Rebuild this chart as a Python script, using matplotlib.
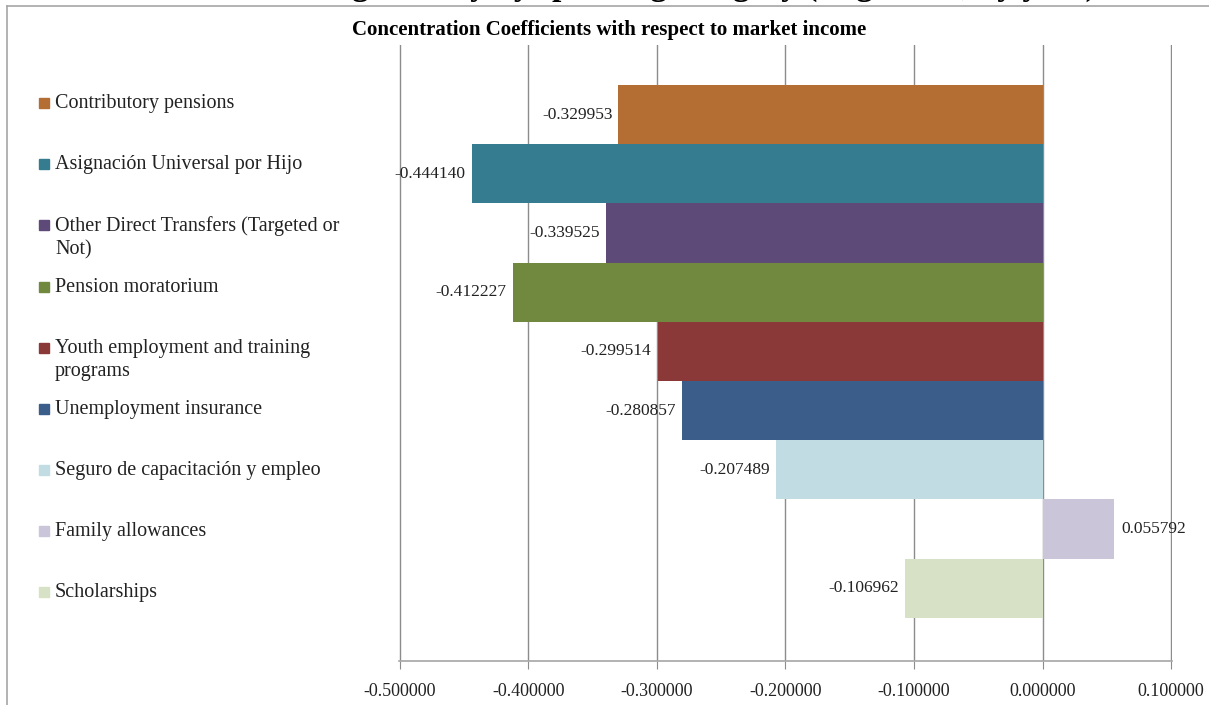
import matplotlib
matplotlib.use("Agg")
import matplotlib.pyplot as plt
from matplotlib.lines import Line2D
from matplotlib.patches import Rectangle

# ============================ data ============================ #
categories = [
    "Contributory pensions",
    "Asignación Universal por Hijo",
    "Other Direct Transfers (Targeted or\nNot)",
    "Pension moratorium",
    "Youth employment and training\nprograms",
    "Unemployment insurance",
    "Seguro de capacitación y empleo",
    "Family allowances",
    "Scholarships",
]
values = [-0.329953, -0.444140, -0.339525, -0.412227, -0.299514,
          -0.280857, -0.207489, 0.055792, -0.106962]
colors = ["#B46D33", "#357C91", "#5E4A78", "#71893E", "#8B3838",
          "#3A5D8A", "#C2DCE4", "#CBC5D9", "#D7E1C6"]
xticks = [-0.5, -0.4, -0.3, -0.2, -0.1, 0.0, 0.1]

plt.rcParams['font.family'] = ['Liberation Serif', 'DejaVu Serif']

fig = plt.figure(figsize=(12.09, 7.05), dpi=100)
ax = fig.add_axes([0.330, 0.0624, 0.6394, 0.8738])

pos = list(range(len(categories)))
ax.barh(pos, values, height=1.0, color=colors, zorder=2)
ax.set_xlim(-0.5006, 0.1006)
ax.set_ylim(8.5 + 0.73, -0.5 - 0.676)

for p, v in zip(pos, values):
    if v < 0:
        ax.annotate(f"{v:.6f}", (v, p), xytext=(-4.3, 0), textcoords="offset points",
                    ha="right", va="center", fontsize=12.5, color="#222222", zorder=3)
    else:
        ax.annotate(f"{v:.6f}", (v, p), xytext=(5, 0), textcoords="offset points",
                    ha="left", va="center", fontsize=12.5, color="#222222", zorder=3)

ax.set_xticks(xticks)
ax.set_xticklabels([f"{t:.6f}" for t in xticks], fontsize=13)
ax.set_yticks([])
ax.grid(axis="x", color="#8c8c8c", linewidth=1.0, zorder=0)
ax.set_axisbelow(True)
for s in ["top", "left", "right"]:
    ax.spines[s].set_visible(False)
ax.spines["bottom"].set_color("#a6a6a6")
ax.spines["bottom"].set_linewidth(1.2)
ax.tick_params(axis="x", length=6, color="#8c8c8c", pad=10, labelcolor="#222222")

# legend, drawn by hand on the left
leg_y = [103, 164, 225, 287, 348, 409, 470, 531, 592]
for yy, lab, c in zip(leg_y, categories, colors):
    fy = 1 - yy / 705
    fig.patches.append(Rectangle((39 / 1209, fy - 5 / 705), 10 / 1209, 10 / 705,
                                 transform=fig.transFigure, color=c, figure=fig))
    fig.text(55 / 1209, fy + 9 / 705, lab, fontsize=14.5, va="top", ha="left",
             color="#222222", linespacing=1.3)

fig.text(0.504, 1 - 30 / 705, "Concentration Coefficients with respect to market income",
         ha="center", va="center", fontsize=15, fontweight="bold")
# main title clipped by the top of the picture
fig.text(0.578, 1 + 5.5 / 705, "Progressivity by spending category (Argentina, by year)",
         ha="center", va="baseline", fontsize=24, fontweight="bold")

# chart frame
fig.lines.append(Line2D([7 / 1209, 7 / 1209], [0, 1 - 6 / 705], transform=fig.transFigure,
                        color="#a6a6a6", linewidth=1.2))
fig.lines.append(Line2D([7 / 1209, 1], [1 - 6 / 705, 1 - 6 / 705], transform=fig.transFigure,
                        color="#a6a6a6", linewidth=1.2))

fig.savefig("out.png", dpi=100)
